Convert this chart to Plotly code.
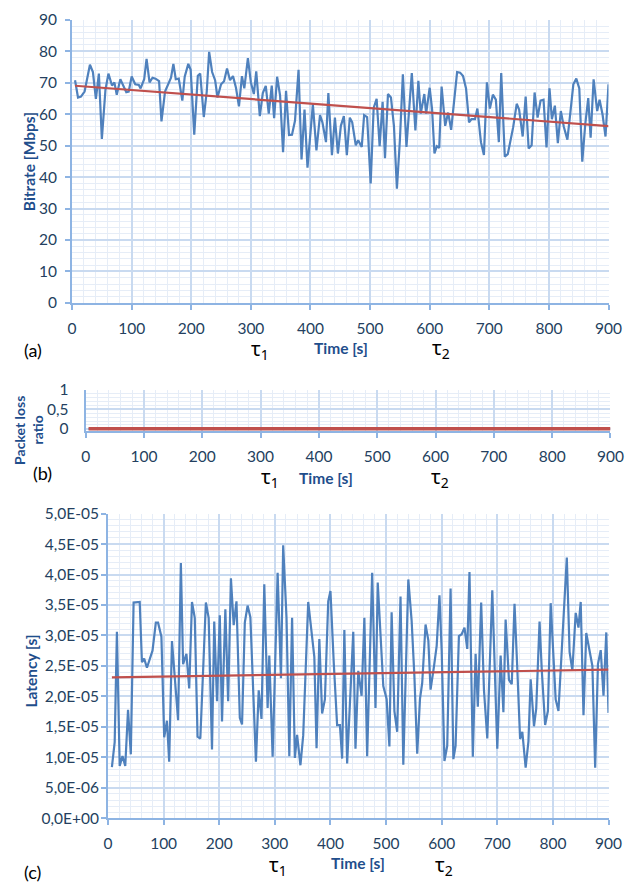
import numpy as np
import plotly.graph_objects as go

# ---- (a) bitrate over time ----
bitrate_t = [5, 10, 15, 21, 30, 35, 40, 45, 50, 56, 61, 67, 71, 75, 81, 86, 91, 95, 100, 106,
             112, 115, 121, 125, 130, 135, 140, 146, 150, 156, 162, 166, 170, 174, 179, 185, 189, 195, 199, 205,
             211, 215, 221, 226, 230, 235, 240, 244, 250, 255, 260, 265, 270, 275, 280, 285, 289, 295, 300, 305,
             309, 315, 320, 325, 330, 335, 339, 344, 349, 354, 359, 364, 369, 374, 380, 385, 390, 395, 404, 410,
             416, 420, 426, 430, 436, 441, 446, 451, 456, 461, 466, 470, 476, 480, 486, 490, 495, 501, 506, 511,
             516, 521, 525, 530, 535, 540, 545, 550, 555, 561, 570, 576, 581, 585, 591, 594, 600, 604, 608, 612,
             616, 620, 626, 631, 636, 641, 646, 651, 656, 661, 666, 670, 676, 680, 686, 691, 696, 701, 706, 711,
             716, 720, 726, 731, 736, 740, 746, 750, 756, 761, 766, 771, 776, 781, 786, 791, 796, 801, 805, 810,
             815, 820, 825, 831, 836, 841, 846, 851, 856, 861, 866, 870, 875, 881, 885, 890, 895, 900]
bitrate_mbps = [70.8, 65.3, 65.6, 67.2, 75.7, 73.4, 64.9, 72.9, 52.1, 67.7, 72.9, 69.1, 70.1, 66.2, 71.1, 68.8, 67.0, 67.2, 72.0, 69.5,
                69.3, 68.2, 71.1, 77.6, 70.1, 71.6, 71.3, 70.5, 57.7, 67.2, 69.8, 71.6, 76.0, 71.1, 71.3, 64.3, 71.9, 76.0, 74.1, 53.5,
                72.2, 72.9, 59.1, 67.2, 79.8, 73.4, 70.8, 65.3, 69.5, 70.5, 74.5, 70.8, 72.1, 68.4, 62.5, 72.1, 68.2, 77.8, 70.1, 66.4,
                73.6, 59.4, 66.7, 69.0, 60.2, 69.1, 58.7, 71.9, 66.0, 47.9, 67.4, 53.4, 53.5, 57.9, 74.1, 45.6, 61.5, 43.0, 63.1, 48.5,
                59.7, 57.4, 51.1, 66.7, 47.0, 58.9, 47.5, 56.3, 59.4, 47.0, 58.9, 57.4, 50.1, 51.7, 49.6, 59.7, 59.1, 38.0, 62.0, 64.9,
                49.8, 63.9, 46.0, 66.4, 65.3, 56.3, 36.3, 51.7, 72.7, 49.6, 73.1, 54.8, 70.6, 60.2, 66.4, 60.2, 68.4, 61.5, 47.5, 49.8,
                49.3, 68.8, 56.3, 60.5, 55.0, 65.1, 73.4, 73.2, 72.1, 68.2, 57.4, 58.4, 58.4, 61.8, 51.1, 47.0, 70.1, 61.8, 66.2, 64.6,
                51.1, 73.1, 46.5, 47.3, 52.2, 55.8, 63.3, 61.5, 52.9, 65.6, 49.1, 50.1, 66.9, 58.9, 64.3, 64.6, 49.4, 68.2, 58.4, 62.7,
                50.8, 61.0, 56.0, 51.9, 60.5, 69.5, 71.3, 68.2, 44.9, 56.8, 65.1, 52.5, 71.1, 61.0, 64.6, 59.9, 52.9, 69.5]

# ---- (b) packet loss ratio (no loss observed) ----
loss_t = bitrate_t
loss_ratio = [0.0] * len(bitrate_t)

# ---- (c) latency, values in units of 1e-5 s ----
latency_t = [7, 12, 16, 21, 26, 31, 36, 41, 46, 57, 61, 65, 70, 80, 86, 90, 96, 101, 106, 110,
             115, 126, 131, 135, 141, 146, 151, 156, 161, 166, 176, 181, 187, 191, 196, 201, 205, 211, 216, 221,
             226, 231, 237, 241, 246, 251, 256, 266, 271, 276, 281, 287, 290, 296, 305, 311, 315, 321, 326, 331,
             336, 340, 346, 351, 360, 371, 375, 380, 385, 390, 396, 400, 406, 412, 417, 421, 425, 430, 441, 445,
             450, 456, 461, 466, 475, 481, 485, 491, 495, 501, 506, 510, 515, 520, 526, 531, 540, 546, 551, 556,
             561, 565, 571, 576, 580, 586, 591, 596, 600, 605, 610, 616, 621, 625, 631, 636, 641, 646, 650, 656,
             661, 665, 671, 676, 682, 691, 696, 700, 706, 711, 715, 721, 726, 731, 736, 741, 745, 751, 756, 760,
             766, 770, 776, 780, 786, 791, 796, 801, 805, 810, 815, 820, 825, 830, 835, 841, 846, 850, 855, 860,
             865, 871, 876, 881, 886, 891, 896, 900]
latency_e5 = [0.84, 1.25, 3.06, 0.86, 1.02, 0.86, 1.78, 1.05, 3.54, 3.55, 2.56, 2.62, 2.47, 2.75, 3.21, 3.21, 2.98, 1.33, 1.60, 0.93,
              2.91, 1.61, 4.19, 2.53, 2.70, 2.13, 3.55, 3.29, 1.34, 1.31, 3.54, 3.29, 1.13, 3.23, 1.92, 3.33, 1.59, 3.43, 1.92, 3.94,
              3.17, 3.56, 1.65, 1.54, 3.21, 3.49, 3.30, 0.93, 2.10, 1.63, 3.84, 1.81, 2.67, 1.01, 4.03, 2.30, 4.48, 3.29, 1.02, 3.29,
              0.99, 1.37, 0.87, 1.36, 3.55, 2.65, 1.15, 2.94, 1.72, 1.95, 3.56, 3.73, 2.54, 1.53, 1.53, 0.98, 3.09, 0.90, 3.06, 1.14,
              2.42, 2.01, 3.29, 1.02, 4.03, 1.81, 3.87, 2.70, 2.17, 1.96, 1.18, 3.38, 1.76, 1.42, 3.64, 0.88, 3.92, 3.24, 2.32, 1.06,
              1.96, 2.22, 3.18, 2.92, 2.11, 2.48, 2.83, 3.66, 2.75, 0.94, 1.19, 3.77, 0.97, 1.19, 2.99, 3.02, 3.13, 2.78, 4.04, 1.01,
              2.70, 1.83, 3.54, 2.11, 1.31, 3.74, 2.43, 1.14, 2.67, 1.74, 3.26, 2.27, 2.20, 3.52, 2.45, 1.30, 1.42, 0.83, 1.26, 2.28,
              1.51, 1.80, 3.23, 2.43, 1.53, 1.76, 3.53, 2.75, 1.95, 1.76, 2.62, 3.56, 4.28, 2.73, 2.43, 3.37, 3.13, 3.55, 1.69, 3.04,
              2.78, 2.50, 0.83, 2.53, 2.76, 2.01, 3.05, 1.73]
latency_s = np.array(latency_e5) * 1e-5

# Tick labels
time_ticks = list(range(0, 901, 100))
bitrate_ticks = list(range(0, 91, 10))
loss_tickvals = [0, 0.5, 1]
loss_ticktext = ["0", "0,5", "1"]
latency_tickvals = [i * 5e-6 for i in range(11)]
latency_ticktext = ["0,0E+00", "5,0E-06", "1,0E-05", "1,5E-05", "2,0E-05", "2,5E-05",
                    "3,0E-05", "3,5E-05", "4,0E-05", "4,5E-05", "5,0E-05"]

BLUE = "#4F81BD"
RED = "#C0504D"
AXIS = "#8EB4E3"
GRID = "#C9DAF0"
MINOR = "#E6EDF7"
TICKC = "#243F60"
TITLEC = "#1F4E8C"
W, H = 639, 889


def linfit(t, y):
    t = np.asarray(t, float)
    k, b = np.polyfit(t, np.asarray(y, float), 1)
    ends = np.array([t.min(), t.max()])
    return ends, k * ends + b


fig = go.Figure()

# (a)
fig.add_trace(go.Scatter(x=bitrate_t, y=bitrate_mbps, mode="lines",
                         line=dict(color=BLUE, width=2.2), xaxis="x", yaxis="y", showlegend=False))
tx, ty = linfit(bitrate_t, bitrate_mbps)
fig.add_trace(go.Scatter(x=tx, y=ty, mode="lines", line=dict(color=RED, width=2.2),
                         xaxis="x", yaxis="y", showlegend=False))

# (b)
fig.add_trace(go.Scatter(x=loss_t, y=loss_ratio, mode="lines",
                         line=dict(color=BLUE, width=2), xaxis="x2", yaxis="y2", showlegend=False))
tx, ty = linfit(loss_t, loss_ratio)
fig.add_trace(go.Scatter(x=tx, y=ty, mode="lines", line=dict(color=RED, width=3.5),
                         xaxis="x2", yaxis="y2", showlegend=False))

# (c)
fig.add_trace(go.Scatter(x=latency_t, y=latency_s, mode="lines",
                         line=dict(color=BLUE, width=2.2), xaxis="x3", yaxis="y3", showlegend=False))
tx, ty = linfit(latency_t, latency_s)
fig.add_trace(go.Scatter(x=tx, y=ty, mode="lines", line=dict(color=RED, width=2.2),
                         xaxis="x3", yaxis="y3", showlegend=False))


def px_x(v):
    return v / W


def px_y(v):
    return 1 - v / H


def axis_style(**kw):
    d = dict(showline=True, linecolor=AXIS, linewidth=2, ticks="outside", tickcolor=AXIS,
             ticklen=5, tickwidth=1.5, showgrid=True, gridcolor=GRID, gridwidth=1.5,
             zeroline=False, layer="below traces",
             tickfont=dict(family="Lato", size=15.5, color=TICKC), fixedrange=True)
    d.update(kw)
    return d


xa = dict(range=[0, 900], tickvals=time_ticks, ticklabelstandoff=5,
          minor=dict(dtick=20, showgrid=True, gridcolor=MINOR, gridwidth=1, ticks=""))

# small padding below zero so the thick zero-level line in (b) is not clipped
loss_pad = 0.06

fig.update_layout(
    width=W, height=H, margin=dict(l=0, r=0, t=0, b=0),
    paper_bgcolor="white", plot_bgcolor="white",
    xaxis=axis_style(domain=[px_x(69), px_x(621)], anchor="y", **xa),
    yaxis=axis_style(domain=[px_y(299), px_y(10)], anchor="x", range=[0, 90], tickvals=bitrate_ticks,
                     ticklabelstandoff=5,
                     minor=dict(dtick=2, showgrid=True, gridcolor=MINOR, gridwidth=1, ticks="")),
    xaxis2=axis_style(domain=[px_x(83), px_x(623)], anchor="y2", **xa),
    yaxis2=axis_style(domain=[px_y(427.5 + 40 * loss_pad), px_y(387.5)], anchor="x2",
                      range=[-loss_pad, 1], ticks="",
                      tickvals=loss_tickvals, ticktext=loss_ticktext, ticklabelstandoff=12,
                      minor=dict(dtick=0.1, showgrid=True, gridcolor=MINOR, gridwidth=1, ticks="")),
    xaxis3=axis_style(domain=[px_x(106), px_x(621)], anchor="y3", **xa),
    yaxis3=axis_style(domain=[px_y(825), px_y(514)], anchor="x3", range=[0, 5e-5],
                      tickvals=latency_tickvals, ticktext=latency_ticktext, ticklabelstandoff=-1,
                      minor=dict(dtick=1e-6, showgrid=True, gridcolor=MINOR, gridwidth=1, ticks="")),
)


def note(text, x, y, size, color="black", family="Noto Sans", angle=0, bold=False):
    if bold:
        text = "<b>" + text + "</b>"
    fig.add_annotation(text=text, x=px_x(x), y=px_y(y), xref="paper", yref="paper",
                       showarrow=False, textangle=angle, xanchor="center", yanchor="middle",
                       font=dict(family=family, size=size, color=color))


# axis titles
note("Bitrate [Mbps]", 25, 155, 15.5, TITLEC, "Lato", -90, True)
note("Time [s]", 346, 345, 15.5, TITLEC, "Lato", 0, True)
note("Packet loss", 15, 429, 14, TITLEC, "Lato", -90, True)
note("ratio", 33, 429, 14, TITLEC, "Lato", -90, True)
note("Time [s]", 330, 478, 15.5, TITLEC, "Lato", 0, True)
note("Latency [s]", 27, 675, 15.5, TITLEC, "Lato", -90, True)
note("Time [s]", 363, 871, 15.5, TITLEC, "Lato", 0, True)

# panel labels
note("(a)", 29, 347, 18, "black", "Lato")
note("(b)", 39, 473, 18, "black", "Lato")
note("(c)", 28, 880, 18, "black", "Lato")

# event markers
for lab, x, y in [("τ<sub>1</sub>", 262, 347), ("τ<sub>2</sub>", 449, 345),
                  ("τ<sub>1</sub>", 273, 477), ("τ<sub>2</sub>", 448, 477),
                  ("τ<sub>1</sub>", 281, 873), ("τ<sub>2</sub>", 452, 873)]:
    note(lab, x, y, 20, "black", "Noto Sans")

fig.write_html("out.html")
